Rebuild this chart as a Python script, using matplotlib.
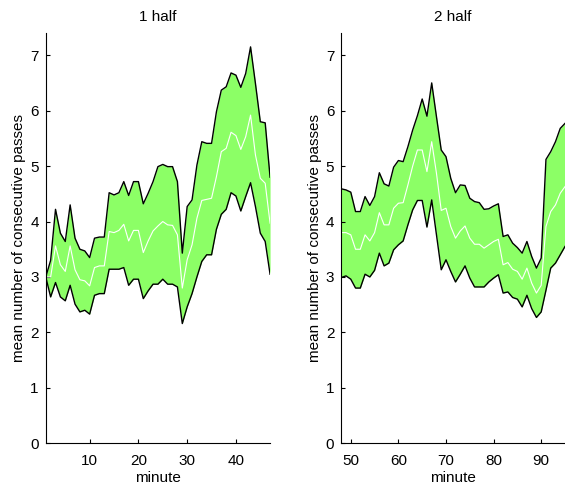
import matplotlib
matplotlib.use("Agg")
import matplotlib.pyplot as plt
import numpy as np

plt.rcParams['font.family'] = ['Liberation Sans', 'DejaVu Sans']

# first half, minutes 1..47
min1 = np.arange(1, 48)
upper1 = [3.0, 3.3, 4.22, 3.79, 3.64, 4.30, 3.70, 3.50, 3.47, 3.35,
          3.70, 3.72, 3.72, 4.52, 4.48, 4.52, 4.72, 4.47, 4.72, 4.72,
          4.32, 4.51, 4.72, 4.99, 5.03, 4.99, 4.99, 4.72, 3.43, 4.27,
          4.39, 5.02, 5.44, 5.41, 5.41, 5.98, 6.37, 6.43, 6.68, 6.64,
          6.42, 6.67, 7.15, 6.49, 5.80, 5.78, 4.80]
mean1 = [3.0, 3.0, 3.56, 3.22, 3.10, 3.56, 3.13, 2.95, 2.93, 2.84,
         3.17, 3.20, 3.20, 3.82, 3.80, 3.84, 3.95, 3.65, 3.84, 3.84,
         3.44, 3.65, 3.83, 3.92, 4.00, 3.94, 3.93, 3.76, 2.80, 3.31,
         3.58, 4.06, 4.38, 4.40, 4.42, 4.81, 5.26, 5.32, 5.61, 5.55,
         5.30, 5.53, 5.92, 5.20, 4.78, 4.69, 3.97]
lower1 = [3.0, 2.64, 2.90, 2.64, 2.57, 2.85, 2.51, 2.37, 2.40, 2.33,
          2.67, 2.70, 2.70, 3.14, 3.14, 3.14, 3.17, 2.85, 2.96, 2.96,
          2.61, 2.75, 2.87, 2.87, 2.96, 2.87, 2.87, 2.82, 2.16, 2.46,
          2.70, 3.00, 3.28, 3.40, 3.40, 3.86, 4.13, 4.22, 4.52, 4.46,
          4.19, 4.45, 4.70, 4.27, 3.79, 3.64, 3.05]

# second half, minutes 48..95
min2 = np.arange(48, 96)
upper2 = [4.59, 4.57, 4.53, 4.18, 4.18, 4.45, 4.29, 4.45, 4.88, 4.68,
          4.64, 4.98, 5.10, 5.08, 5.35, 5.65, 5.91, 6.21, 5.90, 6.50,
          5.89, 5.29, 5.17, 4.78, 4.52, 4.66, 4.65, 4.42, 4.36, 4.34,
          4.22, 4.23, 4.28, 4.32, 3.73, 3.76, 3.61, 3.53, 3.43, 3.64,
          3.37, 3.16, 3.34, 5.12, 5.26, 5.44, 5.68, 5.77]
mean2 = [3.80, 3.80, 3.76, 3.50, 3.50, 3.76, 3.65, 3.80, 4.16, 3.94,
         3.94, 4.24, 4.33, 4.34, 4.66, 5.00, 5.29, 5.29, 4.90, 5.44,
         4.87, 4.20, 4.24, 3.91, 3.70, 3.83, 3.92, 3.70, 3.59, 3.59,
         3.52, 3.58, 3.64, 3.68, 3.22, 3.26, 3.14, 3.10, 2.96, 3.16,
         2.89, 2.71, 2.85, 3.91, 4.18, 4.30, 4.51, 4.63]
lower2 = [2.99, 3.02, 2.96, 2.80, 2.80, 3.05, 3.00, 3.12, 3.43, 3.20,
          3.25, 3.49, 3.58, 3.65, 3.94, 4.21, 4.38, 4.38, 3.90, 4.39,
          3.76, 3.13, 3.31, 3.10, 2.91, 3.05, 3.20, 2.98, 2.82, 2.82,
          2.82, 2.91, 2.98, 3.04, 2.71, 2.73, 2.63, 2.60, 2.46, 2.67,
          2.43, 2.27, 2.37, 2.76, 3.16, 3.25, 3.40, 3.55]

fig = plt.figure(figsize=(5.65, 4.87), dpi=100)
ax1 = fig.add_axes([0.081, 0.0897, 0.397, 0.8425])
ax2 = fig.add_axes([0.604, 0.0897, 0.396, 0.8425])

green = '#8cff66'
panels = [(ax1, min1, upper1, mean1, lower1, '1 half', [10, 20, 30, 40]),
          (ax2, min2, upper2, mean2, lower2, '2 half', [50, 60, 70, 80, 90])]

for ax, m, up, mu, lo, title, ticks in panels:
    ax.fill_between(m, lo, up, color=green, linewidth=0)
    ax.plot(m, up, color='black', linewidth=1)
    ax.plot(m, lo, color='black', linewidth=1)
    ax.plot(m, mu, color='white', linewidth=0.8)
    ax.set_xlim(m[0], m[-1])
    ax.set_ylim(0, 7.4)
    ax.set_xticks(ticks)
    ax.set_yticks(range(0, 8))
    ax.spines['top'].set_visible(False)
    ax.spines['right'].set_visible(False)
    ax.tick_params(direction='in', length=3, labelsize=11)
    ax.tick_params(axis='x', pad=8)
    ax.tick_params(axis='y', pad=5)
    ax.set_title(title, fontsize=11, pad=9)
    ax.set_xlabel('minute', fontsize=11, labelpad=2)
    ax.set_ylabel('mean number of consecutive passes', fontsize=11, labelpad=3)

fig.savefig('out.png', dpi=100)
